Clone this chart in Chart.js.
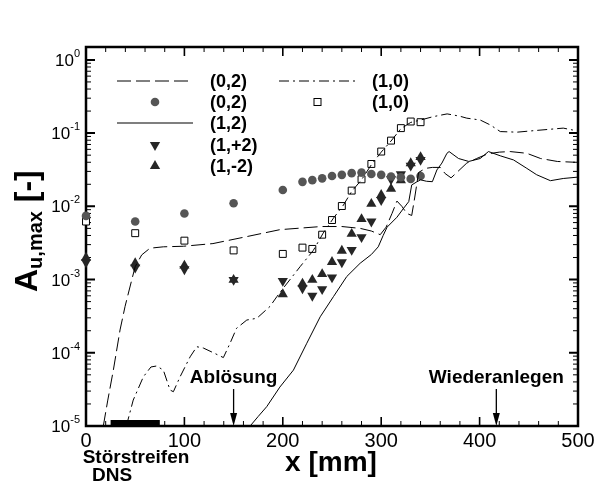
<!DOCTYPE html>
<html>
<head>
<meta charset="utf-8">
<script src="https://cdn.jsdelivr.net/npm/chart.js@4.4.1/dist/chart.umd.min.js"></script>
<style>
  html, body { margin: 0; padding: 0; background: #fff; }
  #c { display: block; }
</style>
</head>
<body>
<canvas id="c" width="594" height="484"></canvas>
<script>
const FONT = '"Liberation Sans", Arial, Helvetica, sans-serif';

// DNS (0,2) - dashed
const dns02X = [17.6, 22, 27.8, 34.6, 39.7, 46.5, 50, 56.6, 65, 78.6, 99, 129, 163, 197, 239, 260, 278.6, 290, 299,
  305, 311, 316, 321, 326, 331, 334, 338, 345, 352, 360, 365, 371, 378, 387, 397, 408, 420, 431, 448, 462, 479, 497];
const dns02Y = [1e-5, 2.2e-5, 5.8e-5, 2.05e-4, 4.3e-4, 9.9e-4, 1.5e-3, 2.17e-3, 2.68e-3, 2.8e-3, 2.85e-3, 3.1e-3, 3.85e-3, 4.8e-3, 5.3e-3, 5.3e-3, 5.0e-3, 4.6e-3, 4.1e-3,
  5.2e-3, 8.0e-3, 1.18e-2, 1.0e-2, 8.0e-3, 7.5e-3, 1.3e-2, 2.9e-2, 3.3e-2, 3.4e-2, 3.4e-2, 2.8e-2, 2.45e-2, 3.0e-2, 3.9e-2, 4.5e-2, 5.2e-2, 5.5e-2, 5.6e-2, 5.3e-2, 4.5e-2, 4.1e-2, 4.0e-2];

// DNS (1,0) - dash-dot
const dns10X = [41, 48, 58.3, 66, 71.8, 78.6, 85.4, 88.8, 95.6, 105.8, 112.6, 119.3, 129.5, 139.6, 146.4, 153, 163.4, 173.6, 187, 194, 199,
  217.6, 231, 241, 251.5, 261.6, 270, 280, 290, 300, 310, 320, 330, 340, 353, 367, 380, 387, 400.6, 411, 421, 438, 455, 472, 485, 495];
const dns10Y = [1e-5, 2.26e-5, 4.7e-5, 6.4e-5, 6.6e-5, 5.8e-5, 3.1e-5, 2.94e-5, 4.7e-5, 8.8e-5, 1.21e-4, 1.16e-4, 1.0e-4, 8.6e-5, 1.35e-4, 2.16e-4, 2.8e-4, 2.96e-4, 4.3e-4, 5.85e-4, 7.2e-4,
  1.5e-3, 2.5e-3, 4.3e-3, 6.9e-3, 1.04e-2, 1.6e-2, 2.3e-2, 3.7e-2, 5.5e-2, 7.8e-2, 0.115, 0.14, 0.151, 0.168, 0.183, 0.17, 0.16, 0.151, 0.129, 0.105, 0.103, 0.108, 0.113, 0.117, 0.11];

// DNS (1,2) - solid
const dns12X = [166.8, 175, 183.7, 197, 210.8, 224.4, 238, 251.5, 265, 278.6, 290, 297, 302, 306, 316, 323, 328, 331, 336, 340, 346, 352,
  356.6, 361.7, 366.8, 369, 378.6, 389, 400.6, 409, 421, 434.5, 448, 458, 472, 485, 499];
const dns12Y = [1e-5, 1.35e-5, 1.84e-5, 3.4e-5, 5.8e-5, 1.35e-4, 3.1e-4, 5.85e-4, 1.1e-3, 1.67e-3, 2.2e-3, 2.8e-3, 4.0e-3, 5.2e-3, 7.1e-3, 9.5e-3, 1.16e-2, 1.96e-2, 2.15e-2, 2.3e-2, 2.2e-2, 2.17e-2,
  3.14e-2, 3.9e-2, 5.3e-2, 5.6e-2, 4.5e-2, 4.1e-2, 4.5e-2, 5.6e-2, 4.9e-2, 4.3e-2, 3.3e-2, 2.7e-2, 2.24e-2, 2.4e-2, 2.5e-2];

// Experiment
const expX = [0, 50, 100, 150, 200, 220, 230, 240, 250, 260, 270, 280, 290, 300, 310, 320, 330, 340];
const exp02 = [0.0074, 0.0062, 0.008, 0.011, 0.0167, 0.0216, 0.0228, 0.0241, 0.026, 0.0269, 0.0284, 0.029, 0.0276, 0.0269, 0.0256, 0.025, 0.0237, 0.026];
const exp10 = [0.0062, 0.0043, 0.0034, 0.0025, 0.00224, 0.00273, 0.00262, 0.0041, 0.0065, 0.0101, 0.0164, 0.0234, 0.0379, 0.056, 0.079, 0.117, 0.144, 0.141];
const exp1p2 = [0.00172, 0.00146, 0.00138, 0.00099, 0.00096, 0.00076, 0.0006, 0.00074, 0.00107, 0.00172, 0.00254, 0.0038, 0.0062, 0.0122, 0.0234, 0.0274, 0.036, 0.043];
const exp1m2 = [0.00199, 0.00167, 0.00155, 0.00099, 0.00063, 0.00088, 0.00099, 0.00119, 0.00174, 0.00248, 0.0042, 0.0067, 0.0108, 0.0143, 0.0173, 0.0226, 0.0388, 0.047];

// axis ticks
const xMajor = [0, 100, 200, 300, 400, 500];
const xMinorStep = 20;
const yDecades = [0, -1, -2, -3, -4, -5];

// annotations
const stripStart = 25, stripEnd = 75;
const ablosungX = 150, wiederX = 417;

const pts = (xs, ys) => xs.map((v, i) => ({ x: v, y: ys[i] }));

const legendItems = [
  { label: '(0,2)', kind: 'dash', col: 0, row: 0 },
  { label: '(0,2)', kind: 'circle', col: 0, row: 1 },
  { label: '(1,2)', kind: 'solid', col: 0, row: 2 },
  { label: '(1,+2)', kind: 'down', col: 0, row: 3 },
  { label: '(1,-2)', kind: 'up', col: 0, row: 4 },
  { label: '(1,0)', kind: 'dashdot', col: 1, row: 0 },
  { label: '(1,0)', kind: 'square', col: 1, row: 1 }
];

const DASH = [14, 5];
const DASHDOT = [10, 4, 2, 4];
const TRI_R = 5.9;
const DOT_R = 4.3;
const TRI_COL = '#262626';
const DOT_COL = '#555555';

function triangle(ctx, x, y, r, down) {
  let rad = down ? Math.PI : 0;
  ctx.beginPath();
  for (let k = 0; k < 3; k++) {
    const px = x + Math.sin(rad) * r, py = y - Math.cos(rad) * r;
    if (k === 0) ctx.moveTo(px, py); else ctx.lineTo(px, py);
    rad += 2 * Math.PI / 3;
  }
  ctx.closePath();
  ctx.fill();
}

const decor = {
  id: 'decor',
  beforeDatasetsDraw(chart) {
    const { ctx, chartArea: a, scales: { x, y } } = chart;
    ctx.save();
    // Störstreifen bar
    ctx.fillStyle = '#000';
    const b0 = x.getPixelForValue(stripStart), b1 = x.getPixelForValue(stripEnd);
    ctx.fillRect(b0, a.bottom - 6, b1 - b0, 6);

    // frame
    ctx.strokeStyle = '#000';
    ctx.lineWidth = 2.5;
    ctx.strokeRect(a.left, a.top, a.right - a.left, a.bottom - a.top);

    // x ticks
    for (let v = 0; v <= 500; v += xMinorStep) {
      const px = x.getPixelForValue(v);
      const major = xMajor.includes(v);
      const len = major ? 9 : 5;
      ctx.lineWidth = major ? 1.6 : 1;
      ctx.beginPath();
      ctx.moveTo(px, a.bottom); ctx.lineTo(px, a.bottom - len);
      ctx.moveTo(px, a.top); ctx.lineTo(px, a.top + len);
      ctx.stroke();
    }
    // y ticks
    for (const e of yDecades) {
      for (let m = 1; m <= 9; m++) {
        const v = m * Math.pow(10, e);
        if (v > y.max * 1.0001 || v < y.min * 0.9999) continue;
        const py = y.getPixelForValue(v);
        const len = m === 1 ? 9 : 5;
        ctx.lineWidth = m === 1 ? 2 : 1;
        ctx.beginPath();
        ctx.moveTo(a.left, py); ctx.lineTo(a.left + len, py);
        ctx.moveTo(a.right, py); ctx.lineTo(a.right - len, py);
        ctx.stroke();
      }
    }
    ctx.restore();
  },
  afterDraw(chart) {
    const { ctx, chartArea: a, scales: { x, y } } = chart;
    ctx.save();
    ctx.fillStyle = '#000';
    ctx.strokeStyle = '#000';

    // y tick labels 10^e
    ctx.textBaseline = 'alphabetic';
    for (const e of yDecades) {
      const py = y.getPixelForValue(Math.pow(10, e));
      ctx.font = '17px ' + FONT;
      const wb = ctx.measureText('10').width;
      ctx.font = '11px ' + FONT;
      const sup = e === 0 ? '0' : '-' + (-e);
      const ws = ctx.measureText(sup).width;
      const right = 80;
      ctx.textAlign = 'left';
      ctx.font = '17px ' + FONT;
      ctx.fillText('10', right - ws - wb, py + 6);
      ctx.font = '11px ' + FONT;
      ctx.fillText(sup, right - ws, py - 3);
    }
    // x tick labels
    ctx.font = '20px ' + FONT;
    ctx.textAlign = 'center';
    for (const v of xMajor) {
      ctx.fillText(String(v), x.getPixelForValue(v), 447);
    }

    // x title
    ctx.font = 'bold 28px ' + FONT;
    ctx.fillText('x [mm]', 331, 471);

    // y title, rotated
    ctx.save();
    ctx.translate(37, 292);
    ctx.rotate(-Math.PI / 2);
    ctx.textAlign = 'left';
    ctx.font = 'bold 32px ' + FONT;
    ctx.fillText('A', 0, 0);
    let cx = ctx.measureText('A').width;
    ctx.font = 'bold 20px ' + FONT;
    ctx.fillText('u,max', cx, 5);
    cx += ctx.measureText('u,max').width;
    ctx.font = 'bold 32px ' + FONT;
    ctx.fillText(' [-]', cx, 0);
    ctx.restore();

    // Störstreifen / DNS
    ctx.font = 'bold 19px ' + FONT;
    ctx.textAlign = 'center';
    ctx.fillText('Störstreifen', 136, 463);
    ctx.fillText('DNS', 112, 481);

    // arrows
    const arrow = (val, label) => {
      const px = x.getPixelForValue(val);
      ctx.font = 'bold 19px ' + FONT;
      ctx.textAlign = 'center';
      ctx.fillText(label, px, 383);
      ctx.lineWidth = 1.3;
      ctx.beginPath();
      ctx.moveTo(px, 389); ctx.lineTo(px, a.bottom - 10);
      ctx.stroke();
      ctx.beginPath();
      ctx.moveTo(px - 3.5, a.bottom - 13);
      ctx.lineTo(px + 3.5, a.bottom - 13);
      ctx.lineTo(px, a.bottom);
      ctx.closePath();
      ctx.fill();
    };
    arrow(ablosungX, 'Ablösung');
    arrow(wiederX, 'Wiederanlegen');

    // legend
    const cols = [{ x0: 117, x1: 193, tx: 210 }, { x0: 279, x1: 356, tx: 372 }];
    const rowY = [81, 102, 123, 145, 166];
    ctx.font = 'bold 18px ' + FONT;
    ctx.textAlign = 'left';
    ctx.textBaseline = 'middle';
    for (const it of legendItems) {
      const c = cols[it.col], ly = rowY[it.row], mx = (c.x0 + c.x1) / 2;
      ctx.fillStyle = '#000';
      ctx.fillText(it.label, c.tx, ly + 1);
      ctx.lineWidth = 1;
      ctx.setLineDash([]);
      if (it.kind === 'dash' || it.kind === 'dashdot' || it.kind === 'solid') {
        ctx.setLineDash(it.kind === 'dash' ? DASH : it.kind === 'dashdot' ? DASHDOT : []);
        ctx.strokeStyle = it.kind === 'solid' ? '#555' : '#000';
        ctx.lineWidth = it.kind === 'solid' ? 1.3 : 1;
        ctx.beginPath();
        ctx.moveTo(c.x0, ly); ctx.lineTo(c.x1, ly);
        ctx.stroke();
        ctx.setLineDash([]);
      } else if (it.kind === 'circle') {
        ctx.fillStyle = DOT_COL;
        ctx.beginPath(); ctx.arc(mx, ly, DOT_R, 0, Math.PI * 2); ctx.fill();
      } else if (it.kind === 'square') {
        ctx.strokeStyle = '#000';
        ctx.fillStyle = '#fff';
        ctx.fillRect(mx - 3.5, ly - 3.5, 7, 7);
        ctx.strokeRect(mx - 3.5, ly - 3.5, 7, 7);
      } else {
        ctx.fillStyle = TRI_COL;
        triangle(ctx, mx, ly, TRI_R, it.kind === 'down');
      }
    }
    ctx.restore();
  }
};

const lineDs = (label, xs, ys, dash, color) => ({
  label, data: pts(xs, ys), showLine: true, pointRadius: 0,
  borderColor: color || '#000', borderWidth: 1, borderDash: dash, tension: 0, fill: false
});
const markDs = (label, ys, style, opts) => Object.assign({
  label, data: pts(expX, ys), showLine: false, pointStyle: style, clip: false
}, opts);

new Chart(document.getElementById('c'), {
  type: 'scatter',
  data: {
    datasets: [
      lineDs('DNS (0,2)', dns02X, dns02Y, DASH),
      lineDs('DNS (1,0)', dns10X, dns10Y, DASHDOT),
      lineDs('DNS (1,2)', dns12X, dns12Y, []),
      markDs('(0,2)', exp02, 'circle', { pointRadius: DOT_R, backgroundColor: DOT_COL, borderWidth: 0 }),
      markDs('(1,0)', exp10, 'rect', { pointRadius: 4.9, backgroundColor: '#fff', borderColor: '#000', borderWidth: 1 }),
      markDs('(1,+2)', exp1p2, 'triangle', { pointRadius: TRI_R, rotation: 180, backgroundColor: TRI_COL, borderWidth: 0 }),
      markDs('(1,-2)', exp1m2, 'triangle', { pointRadius: TRI_R, backgroundColor: TRI_COL, borderWidth: 0 })
    ]
  },
  options: {
    responsive: false,
    devicePixelRatio: 1,
    animation: false,
    layout: { padding: { top: 47, right: 16, left: 0, bottom: 0 } },
    plugins: { legend: { display: false }, tooltip: { enabled: false } },
    scales: {
      x: {
        type: 'linear', min: 0, max: 500,
        grid: { display: false }, border: { display: false },
        ticks: { display: false },
        afterFit: s => { s.height = 58; }
      },
      y: {
        type: 'logarithmic', min: 1e-5, max: 1.5,
        grid: { display: false }, border: { display: false },
        ticks: { display: false },
        afterFit: s => { s.width = 86; }
      }
    }
  },
  plugins: [decor]
});
</script>
</body>
</html>
